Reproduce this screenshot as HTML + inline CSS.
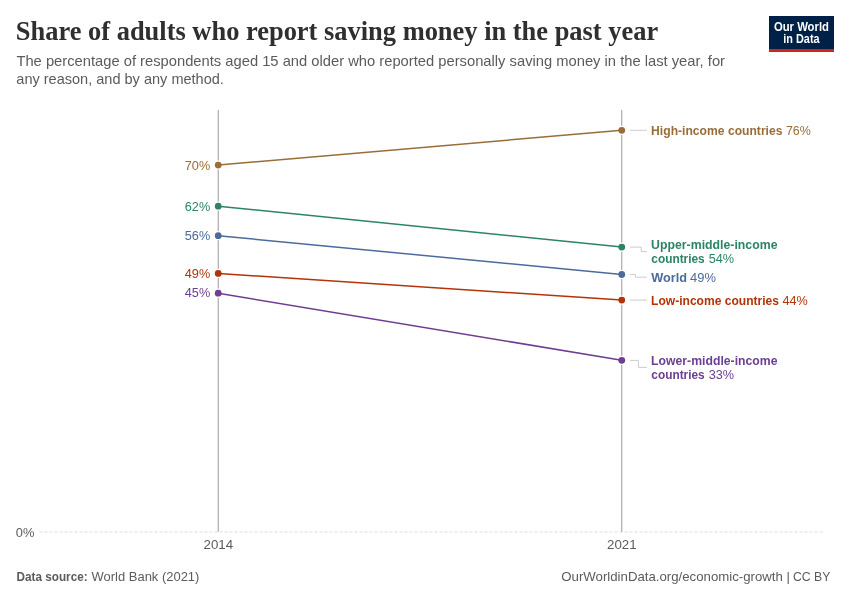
<!DOCTYPE html>
<html lang="en">
<head>
<meta charset="utf-8">
<title>Share of adults who report saving money in the past year</title>
<style>
html,body{margin:0;padding:0;background:#fff;}
body{width:850px;height:600px;overflow:hidden;}
svg{display:block;}
text{font-family:"Liberation Sans",sans-serif;}
.title{font-family:"Liberation Serif",serif;font-weight:bold;fill:#2f2f2f;}
.sub{fill:#5b5b5b;font-size:15px;}
.val{font-size:13.4px;}
.lab{font-size:13.4px;}
.lab .b{font-weight:bold;}
.axis{font-size:13px;fill:#5b5b5b;}
.foot{font-size:13px;fill:#5b5b5b;}
</style>
</head>
<body>
<svg width="850" height="600" viewBox="0 0 850 600">
<rect width="850" height="600" fill="#fff"/>
<!-- header -->
<text class="title" x="15.8" y="40.4" font-size="27.8" textLength="642.4" lengthAdjust="spacingAndGlyphs">Share of adults who report saving money in the past year</text>
<text class="sub" x="16.4" y="66.2" textLength="708.6" lengthAdjust="spacingAndGlyphs">The percentage of respondents aged 15 and older who reported personally saving money in the last year, for</text>
<text class="sub" x="16.3" y="84.2" textLength="207.6" lengthAdjust="spacingAndGlyphs">any reason, and by any method.</text>
<!-- logo -->
<g id="logo">
<rect x="769" y="16" width="65" height="36" fill="#002147"/>
<rect x="769" y="49" width="65" height="3" fill="#ce261e"/>
<text x="773.9" y="30.8" font-size="12.2" font-weight="bold" fill="#fff" textLength="55.1" lengthAdjust="spacingAndGlyphs">Our World</text>
<text x="783.3" y="42.7" font-size="12.2" font-weight="bold" fill="#fff" textLength="36.3" lengthAdjust="spacingAndGlyphs">in Data</text>
</g>
<!-- axes -->
<line x1="39.5" y1="531.95" x2="823" y2="531.95" stroke="#ddd" stroke-width="1" stroke-dasharray="3,2"/>
<line x1="218.23" y1="110" x2="218.23" y2="531.8" stroke="#999" stroke-width="1"/>
<line x1="621.77" y1="110" x2="621.77" y2="531.8" stroke="#999" stroke-width="1"/>
<text class="axis" x="15.8" y="536.9" textLength="18.6" lengthAdjust="spacingAndGlyphs">0%</text>
<text class="axis" x="203.5" y="549.4" textLength="29.6" lengthAdjust="spacingAndGlyphs">2014</text>
<text class="axis" x="607" y="549.4" textLength="29.6" lengthAdjust="spacingAndGlyphs">2021</text>
<!-- slopes -->
<g fill="#fff">
<circle cx="218.23" cy="165.1" r="4.6"/><circle cx="621.77" cy="130.3" r="4.6"/>
<circle cx="218.23" cy="206.2" r="4.6"/><circle cx="621.77" cy="247.1" r="4.6"/>
<circle cx="218.23" cy="235.7" r="4.6"/><circle cx="621.77" cy="274.5" r="4.6"/>
<circle cx="218.23" cy="273.4" r="4.6"/><circle cx="621.77" cy="300.1" r="4.6"/>
<circle cx="218.23" cy="293.2" r="4.6"/><circle cx="621.77" cy="360.3" r="4.6"/>
</g>
<g stroke-width="1.5" fill="none">
<line x1="218.23" y1="165.1" x2="621.77" y2="130.3" stroke="#996D39"/>
<line x1="218.23" y1="206.2" x2="621.77" y2="247.1" stroke="#2C8465"/>
<line x1="218.23" y1="235.7" x2="621.77" y2="274.5" stroke="#4C6A9C"/>
<line x1="218.23" y1="273.4" x2="621.77" y2="300.1" stroke="#B13507"/>
<line x1="218.23" y1="293.2" x2="621.77" y2="360.3" stroke="#6D3E91"/>
</g>
<g>
<circle cx="218.23" cy="165.1" r="3.4" fill="#996D39"/><circle cx="621.77" cy="130.3" r="3.4" fill="#996D39"/>
<circle cx="218.23" cy="206.2" r="3.4" fill="#2C8465"/><circle cx="621.77" cy="247.1" r="3.4" fill="#2C8465"/>
<circle cx="218.23" cy="235.7" r="3.4" fill="#4C6A9C"/><circle cx="621.77" cy="274.5" r="3.4" fill="#4C6A9C"/>
<circle cx="218.23" cy="273.4" r="3.4" fill="#B13507"/><circle cx="621.77" cy="300.1" r="3.4" fill="#B13507"/>
<circle cx="218.23" cy="293.2" r="3.4" fill="#6D3E91"/><circle cx="621.77" cy="360.3" r="3.4" fill="#6D3E91"/>
</g>
<!-- left value labels -->
<g class="val">
<text x="184.8" y="169.5" fill="#996D39" textLength="25.4" lengthAdjust="spacingAndGlyphs">70%</text>
<text x="184.8" y="210.5" fill="#2C8465" textLength="25.4" lengthAdjust="spacingAndGlyphs">62%</text>
<text x="184.8" y="240.1" fill="#4C6A9C" textLength="25.4" lengthAdjust="spacingAndGlyphs">56%</text>
<text x="184.8" y="277.5" fill="#B13507" textLength="25.4" lengthAdjust="spacingAndGlyphs">49%</text>
<text x="184.8" y="297.4" fill="#6D3E91" textLength="25.4" lengthAdjust="spacingAndGlyphs">45%</text>
</g>
<!-- connectors -->
<g stroke="#ccc" stroke-width="1" fill="none">
<path d="M629.9 130.3H646.9"/>
<path d="M629.9 247.1H641.2V251.6H646.9"/>
<path d="M629.9 274.5H635.4V277.2H646.9"/>
<path d="M629.9 300.1H646.9"/>
<path d="M629.9 360.4H638.4V367.4H646.9"/>
</g>
<!-- right labels -->
<g class="lab">
<text class="b" x="651.1" y="135.3" fill="#996D39" textLength="131.4" lengthAdjust="spacingAndGlyphs">High-income countries</text>
<text x="785.9" y="135.3" fill="#996D39" textLength="24.9" lengthAdjust="spacingAndGlyphs">76%</text>
<text class="b" x="651.1" y="249.3" fill="#2C8465" textLength="126.4" lengthAdjust="spacingAndGlyphs">Upper-middle-income</text>
<text class="b" x="651.3" y="263.1" fill="#2C8465" textLength="53.4" lengthAdjust="spacingAndGlyphs">countries</text>
<text x="708.7" y="263.1" fill="#2C8465" textLength="25.4" lengthAdjust="spacingAndGlyphs">54%</text>
<text class="b" x="651.3" y="281.6" fill="#4C6A9C" textLength="35.8" lengthAdjust="spacingAndGlyphs">World</text>
<text x="690.1" y="281.6" fill="#4C6A9C" textLength="25.9" lengthAdjust="spacingAndGlyphs">49%</text>
<text class="b" x="651.1" y="304.5" fill="#B13507" textLength="127.9" lengthAdjust="spacingAndGlyphs">Low-income countries</text>
<text x="782.4" y="304.5" fill="#B13507" textLength="25.3" lengthAdjust="spacingAndGlyphs">44%</text>
<text class="b" x="651.1" y="365.0" fill="#6D3E91" textLength="126.4" lengthAdjust="spacingAndGlyphs">Lower-middle-income</text>
<text class="b" x="651.3" y="379.1" fill="#6D3E91" textLength="53.4" lengthAdjust="spacingAndGlyphs">countries</text>
<text x="708.7" y="379.1" fill="#6D3E91" textLength="25.4" lengthAdjust="spacingAndGlyphs">33%</text>
</g>
<!-- footer -->
<text class="foot" x="16.6" y="580.5" font-weight="bold" textLength="71" lengthAdjust="spacingAndGlyphs">Data source:</text>
<text class="foot" x="91.6" y="580.5" textLength="107.8" lengthAdjust="spacingAndGlyphs">World Bank (2021)</text>
<text class="foot" x="561.3" y="580.5" textLength="221.6" lengthAdjust="spacingAndGlyphs">OurWorldinData.org/economic-growth</text>
<text class="foot" x="786.5" y="580.5">|</text>
<text class="foot" x="792.9" y="580.5" textLength="37.4" lengthAdjust="spacingAndGlyphs">CC BY</text>
</svg>
</body>
</html>
